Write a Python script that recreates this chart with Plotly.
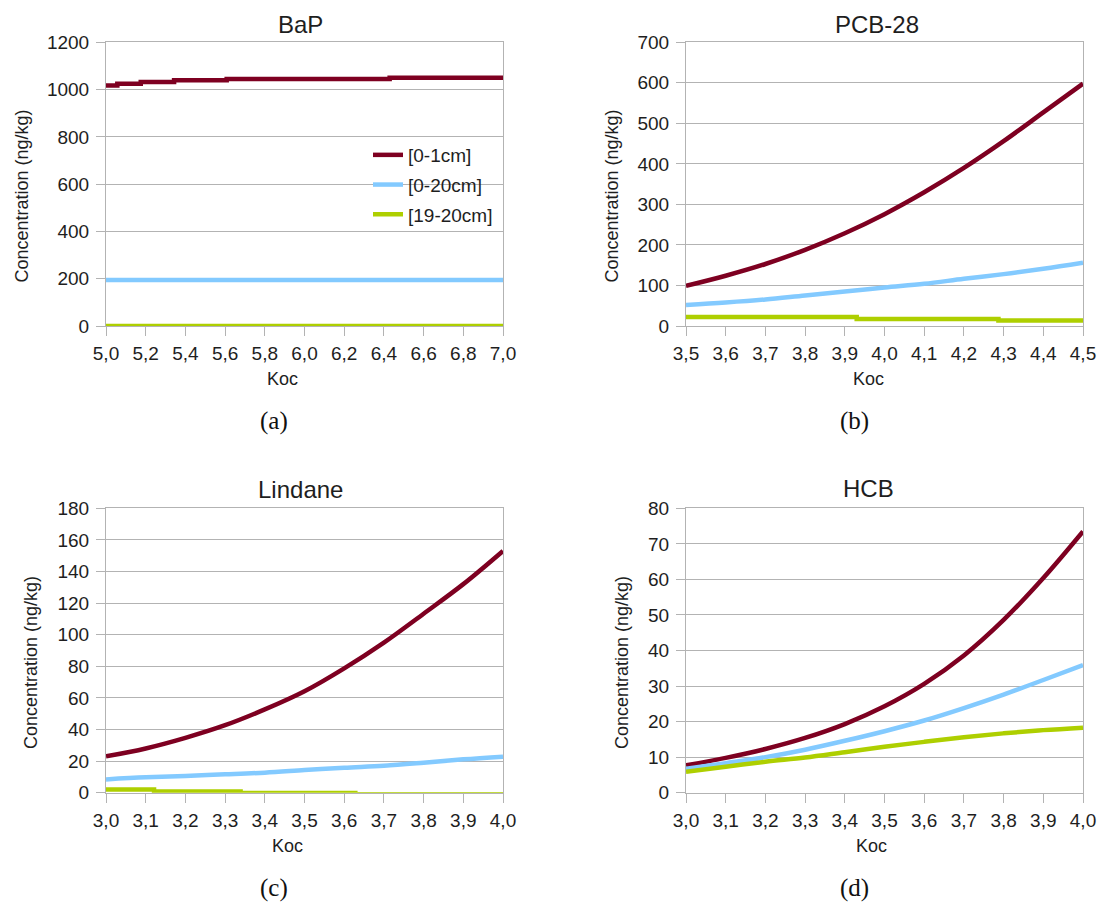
import plotly.graph_objects as go

W, H = 1099, 902

# ---------------- data ----------------
SERIES = ["[0-1cm]", "[0-20cm]", "[19-20cm]"]
COLORS = ["#7e0021", "#83caff", "#aecf00"]

# (a) BaP
bap_x_top = [5.0, 5.057, 5.175, 5.343, 5.608, 6.429, 7.0]
bap_y_top = [1017, 1025, 1032, 1039, 1045, 1050, 1050]
bap_x_mid = [5.0, 5.5, 6.0, 6.5, 7.0]
bap_y_mid = [195, 195, 195, 195, 195]
bap_x_bot = [5.0, 5.5, 6.0, 6.5, 7.0]
bap_y_bot = [0.5, 0.5, 0.5, 0.5, 0.5]

# (b) PCB-28
pcb_x = [3.5, 3.6, 3.7, 3.8, 3.9, 4.0, 4.1, 4.2, 4.3, 4.4, 4.5]
pcb_y_top = [99, 124, 153, 188, 229, 276, 330, 390, 456, 527, 598]
pcb_y_mid = [52, 58, 65.5, 75.5, 85, 95, 104, 116.5, 128, 141, 156]
pcb_x_bot = [3.5, 3.93, 4.287, 4.5]
pcb_y_bot = [22, 17.5, 13.5, 13.5]

# (c) Lindane
lin_x = [3.0, 3.1, 3.2, 3.3, 3.4, 3.5, 3.6, 3.7, 3.8, 3.9, 4.0]
lin_y_top = [23.0, 28.0, 34.7, 42.7, 52.7, 64.2, 78.7, 95.0, 113.3, 132.0, 153.0]
lin_y_mid = [8.4, 9.7, 10.6, 11.6, 12.7, 14.3, 15.8, 17.1, 19.0, 21.1, 22.8]
lin_x_bot = [3.0, 3.121, 3.339, 3.628, 4.0]
lin_y_bot = [2.1, 0.8, -0.2, -1.0, -1.0]

# (d) HCB
hcb_x = [3.0, 3.1, 3.2, 3.3, 3.4, 3.5, 3.6, 3.7, 3.8, 3.9, 4.0]
hcb_y_top = [7.7, 9.8, 12.3, 15.4, 19.3, 24.3, 30.6, 38.6, 48.6, 60.4, 73.5]
hcb_y_mid = [6.7, 8.3, 10.0, 12.1, 14.6, 17.3, 20.3, 23.8, 27.6, 31.7, 35.9]
hcb_y_bot = [5.9, 7.3, 8.7, 9.9, 11.4, 12.9, 14.3, 15.6, 16.7, 17.6, 18.3]

panel_titles = ["BaP", "PCB-28", "Lindane", "HCB"]
captions = ["(a)", "(b)", "(c)", "(d)"]
x_ranges = [[5.0, 7.0], [3.5, 4.5], [3.0, 4.0], [3.0, 4.0]]
x_dticks = [0.2, 0.1, 0.1, 0.1]
y_ranges = [[0, 1200], [0, 700], [0, 180], [0, 80]]
y_dticks = [200, 100, 20, 10]

panels = [
    [(bap_x_top, bap_y_top, "hv"), (bap_x_mid, bap_y_mid, "linear"), (bap_x_bot, bap_y_bot, "linear")],
    [(pcb_x, pcb_y_top, "spline"), (pcb_x, pcb_y_mid, "spline"), (pcb_x_bot, pcb_y_bot, "hv")],
    [(lin_x, lin_y_top, "spline"), (lin_x, lin_y_mid, "spline"), (lin_x_bot, lin_y_bot, "hv")],
    [(hcb_x, hcb_y_top, "spline"), (hcb_x, hcb_y_mid, "spline"), (hcb_x, hcb_y_bot, "spline")],
]

# ---------------- layout geometry (reference pixels) ----------------
areas = [(106, 503, 42.3, 326), (686, 1083, 42.3, 326), (106, 503, 508.3, 792.7), (686, 1083, 508.3, 792.7)]
title_pos = [(300, 25), (877, 24), (300, 489), (868, 488.5)]
ytitle_pos = [(22, 196.5), (612, 196.5), (31, 663), (622, 663)]
xtitle_pos = [(282, 379), (868, 379), (287, 846), (871, 846)]
caption_pos = [(274, 421), (854, 421), (274, 888), (854, 888)]


def px(x):
    return x / W


def py(y):
    return 1 - y / H


FONT = "Liberation Sans, Arial, sans-serif"
TXT = "#1e1e1e"
GRID = "#b3b3b3"

fig = go.Figure()
for i, series in enumerate(panels):
    ax = "" if i == 0 else str(i + 1)
    for j, (xs, ys, shape) in enumerate(series):
        fig.add_trace(go.Scatter(
            x=xs, y=ys, mode="lines", name=SERIES[j],
            line=dict(color=COLORS[j], width=4.5, shape=shape),
            xaxis="x" + ax, yaxis="y" + ax,
            showlegend=(i == 0), legendgroup=SERIES[j],
        ))

layout = dict(
    width=W, height=H, margin=dict(l=0, r=0, t=0, b=0, autoexpand=False),
    paper_bgcolor="white", plot_bgcolor="white",
    separators=",.",
    font=dict(family=FONT, color=TXT, size=18),
    legend=dict(x=px(368), y=py(136), xanchor="left", yanchor="top",
                bgcolor="rgba(0,0,0,0)", font=dict(size=19, family=FONT, color=TXT),
                traceorder="grouped", tracegroupgap=2),
)
annotations = []
for i in range(4):
    ax = "" if i == 0 else str(i + 1)
    l, r, t, b = areas[i]
    layout["xaxis" + ax] = dict(
        domain=[px(l), px(r)], range=x_ranges[i], dtick=x_dticks[i], tick0=x_ranges[i][0],
        tickformat=".1f", anchor="y" + ax,
        showline=True, linecolor=GRID, linewidth=1, mirror=True,
        showgrid=False, zeroline=False,
        ticks="outside", ticklen=9, tickcolor=GRID, tickwidth=1, ticklabelstandoff=1,
        tickfont=dict(size=19, family=FONT, color=TXT),
    )
    layout["yaxis" + ax] = dict(
        domain=[py(b), py(t)], range=y_ranges[i], dtick=y_dticks[i],
        anchor="x" + ax,
        showline=True, linecolor=GRID, linewidth=1, mirror=True,
        showgrid=True, gridcolor=GRID, gridwidth=1, zeroline=False,
        ticks="outside", ticklen=9, tickcolor=GRID, tickwidth=1, ticklabelstandoff=3,
        tickfont=dict(size=19, family=FONT, color=TXT),
    )
    annotations.append(dict(text=panel_titles[i], x=px(title_pos[i][0]), y=py(title_pos[i][1]),
                            xref="paper", yref="paper", xanchor="center", yanchor="middle",
                            showarrow=False, font=dict(size=24, family=FONT, color=TXT)))
    annotations.append(dict(text="Concentration (ng/kg)", x=px(ytitle_pos[i][0]), y=py(ytitle_pos[i][1]),
                            xref="paper", yref="paper", xanchor="center", yanchor="middle",
                            textangle=-90, showarrow=False, font=dict(size=18, family=FONT, color=TXT)))
    annotations.append(dict(text="Koc", x=px(xtitle_pos[i][0]), y=py(xtitle_pos[i][1]),
                            xref="paper", yref="paper", xanchor="center", yanchor="middle",
                            showarrow=False, font=dict(size=18, family=FONT, color=TXT)))
    annotations.append(dict(text=captions[i], x=px(caption_pos[i][0]), y=py(caption_pos[i][1]),
                            xref="paper", yref="paper", xanchor="center", yanchor="middle",
                            showarrow=False, font=dict(size=25, family="Liberation Serif, DejaVu Serif, serif",
                                                       color="#111111")))
layout["annotations"] = annotations
fig.update_layout(**layout)

# remove the default page margin so the 1099x902 figure fills the window exactly
page_fix = ("document.documentElement.style.margin='0';document.body.style.margin='0';"
            "document.documentElement.style.overflow='hidden';document.body.style.overflow='hidden';")
fig.write_html("out.html", post_script=page_fix, config={"displayModeBar": False})
